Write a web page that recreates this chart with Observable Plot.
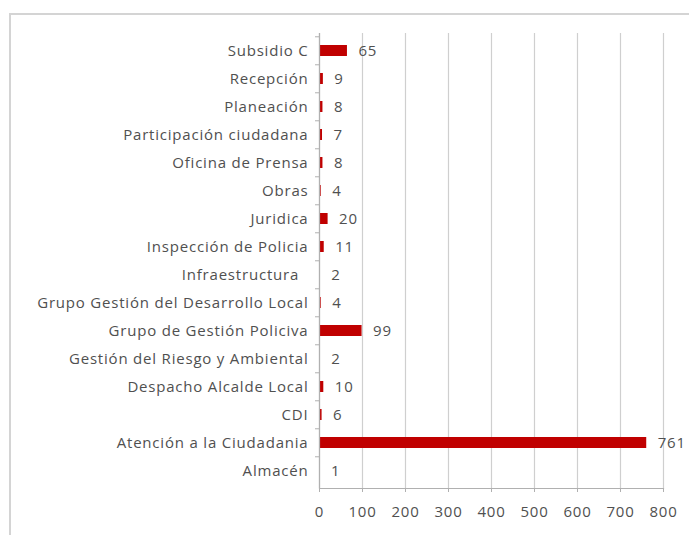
<!DOCTYPE html>
<html>
<head>
<meta charset="utf-8">
<script src="https://cdn.jsdelivr.net/npm/d3@7"></script>
<script src="https://cdn.jsdelivr.net/npm/@observablehq/plot@0.6"></script>
<style>
  html, body { margin: 0; padding: 0; background: #fff; }
  #wrap { position: relative; width: 689px; height: 535px; overflow: hidden; }
  #frame { position: absolute; left: 9px; top: 13px; width: 700px; height: 600px;
           border-left: 2px solid #d4d4d4; border-top: 2px solid #d4d4d4; box-sizing: border-box; }
  #chart { position: absolute; left: 0; top: 0; }
  #chart text { letter-spacing: 0.8px; }
</style>
</head>
<body>
<div id="wrap"><div id="frame"></div><div id="chart"></div></div>
<script>
const categories = [
  "Subsidio C", "Recepción", "Planeación", "Participación ciudadana",
  "Oficina de Prensa", "Obras", "Juridica", "Inspección de Policia",
  "Infraestructura\u00a0\u00a0", "Grupo Gestión del Desarrollo Local", "Grupo de Gestión Policiva",
  "Gestión del Riesgo y Ambiental", "Despacho Alcalde Local", "CDI",
  "Atención a la Ciudadania", "Almacén"
];
const values = [65, 9, 8, 7, 8, 4, 20, 11, 2, 4, 99, 2, 10, 6, 761, 1];
const xTicks = [0, 100, 200, 300, 400, 500, 600, 700, 800];

const data = categories.map((c, i) => ({category: c, value: values[i]}));

const font = "'Open Sans', sans-serif";
const textColor = "#505050";
const band = (488 - 33) / categories.length;

const chart = Plot.plot({
  width: 689,
  height: 535,
  marginLeft: 319,
  marginRight: 26,
  marginTop: 33,
  marginBottom: 47,
  style: {fontFamily: font, fontSize: "15px", color: textColor, background: "transparent"},
  x: {domain: [0, 800]},
  y: {domain: categories, paddingInner: 0.6, paddingOuter: 0.3, align: 0.5},
  marks: [
    Plot.gridX(xTicks, {stroke: "#cfcfcf", strokeOpacity: 1, strokeWidth: 1.2}),
    Plot.barX(data, {y: "category", x: "value", fill: "#c00000"}),
    Plot.text(data, {y: "category", x: "value", text: d => String(d.value), textAnchor: "start", dx: 11, fill: textColor, fontSize: 15}),
    Plot.ruleX([0], {stroke: "#b0b0b0", strokeWidth: 1.2}),
    Plot.frame({anchor: "bottom", stroke: "#b0b0b0", strokeWidth: 1.2}),
    Plot.axisY({tickSize: 0, tickPadding: 11, label: null, fill: textColor, fontSize: 15}),
    Plot.axisY({tickSize: 4, tickFormat: () => "", label: null, dy: -band / 2, stroke: "#b0b0b0"}),
    Plot.axisX(xTicks, {tickSize: 4, tickPadding: 14, label: null, stroke: "#b0b0b0", fill: textColor, fontSize: 15})
  ]
});
document.getElementById("chart").appendChild(chart);
</script>
</body>
</html>
